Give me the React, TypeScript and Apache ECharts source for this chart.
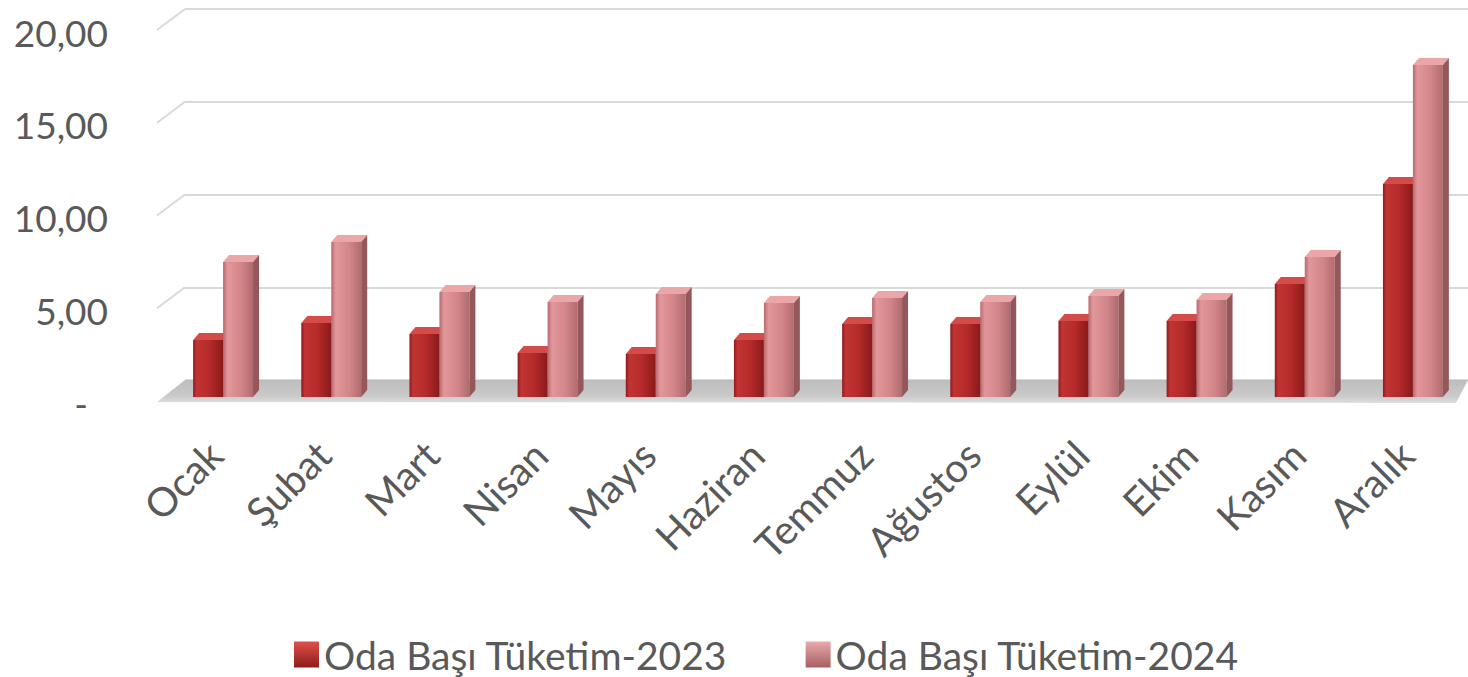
import React, { useEffect, useRef } from "react";
import * as echarts from "echarts";

const months = ["Ocak", "Şubat", "Mart", "Nisan", "Mayıs", "Haziran", "Temmuz", "Ağustos", "Eylül", "Ekim", "Kasım", "Aralık"];
const values2023 = [3.07, 3.99, 3.4, 2.37, 2.32, 3.07, 3.94, 3.94, 4.1, 4.1, 6.09, 11.48];
const values2024 = [7.28, 8.36, 5.66, 5.12, 5.55, 5.07, 5.34, 5.12, 5.44, 5.23, 7.55, 17.9];
const seriesNames = ["Oda Başı Tüketim-2023", "Oda Başı Tüketim-2024"];
const wallTicks = [5, 10, 15, 20];

const FONT = "Lato, 'Open Sans', sans-serif";
const TEXT = "#595959";
const GRIDC = "#d9d9d9";

const palettes = [
  {
    front: [
      [0, "#8f1b1b"],
      [0.12, "#c23434"],
      [0.55, "#b52a2a"],
      [1, "#8a1a1a"],
    ],
    top: "#d44c4a",
    side: "#7a1515",
    legend: ["#e0504a", "#8e1c1c"],
  },
  {
    front: [
      [0, "#b86a6d"],
      [0.15, "#e2979a"],
      [0.6, "#d3868a"],
      [1, "#b06b6e"],
    ],
    top: "#eba7a8",
    side: "#94585a",
    legend: ["#eaa9ab", "#a65e61"],
  },
];

const DX = 6;
const DY = -7;

function makeRender(s: number) {
  const p = palettes[s];
  return (params: any, api: any) => {
    const c = api.value(0);
    const v = api.value(1);
    const base = api.coord([c, 0]);
    const top = api.coord([c, v]);
    const band = api.size([1, 0])[0];
    const w = band * 0.277;
    const x0 = base[0] - w + s * w;
    const x1 = x0 + w;
    const yb = base[1];
    const yt = top[1];
    return {
      type: "group",
      children: [
        {
          type: "rect",
          shape: { x: x0, y: yt, width: w, height: yb - yt },
          style: {
            fill: new echarts.graphic.LinearGradient(
              0, 0, 1, 0,
              p.front.map(([o, col]) => ({ offset: o as number, color: col as string }))
            ),
          },
        },
        {
          type: "polygon",
          shape: { points: [[x0, yt], [x0 + DX, yt + DY], [x1 + DX, yt + DY], [x1, yt]] },
          style: { fill: p.top },
        },
        {
          type: "polygon",
          shape: { points: [[x1, yt], [x1 + DX, yt + DY], [x1 + DX, yb + DY], [x1, yb]] },
          style: { fill: p.side },
        },
      ],
    };
  };
}

export default function App() {
  const ref = useRef<HTMLDivElement>(null);
  useEffect(() => {
    if (!ref.current) return;
    const chart = echarts.init(ref.current, undefined, { renderer: "svg" });
    const option: any = {
      animation: false,
      legend: {
        data: seriesNames,
        left: 289,
        top: 630,
        itemWidth: 25,
        itemHeight: 26,
        itemGap: 78,
        icon: "rect",
        textStyle: { fontFamily: FONT, fontSize: 39, color: TEXT },
      },
      grid: [
        { left: 169, right: 1, top: 26, bottom: 280 },
        { left: 185, right: 0, top: 9, bottom: 297 },
        { left: 161, right: 7, top: 32, bottom: 274 },
      ],
      xAxis: [
        { type: "category", gridIndex: 0, data: months, show: false },
        { type: "value", gridIndex: 1, min: 0, max: 1, show: false },
        {
          type: "category",
          gridIndex: 2,
          data: months,
          axisLine: { show: false },
          axisTick: { show: false },
          axisLabel: {
            rotate: 45,
            margin: 45,
            interval: 0,
            fontFamily: FONT,
            fontSize: 40,
            color: TEXT,
          },
        },
      ],
      yAxis: [
        { type: "value", gridIndex: 0, min: 0, max: 20, interval: 5, show: false },
        {
          type: "value",
          gridIndex: 1,
          min: 0,
          max: 20,
          interval: 5,
          axisLine: { show: false },
          axisTick: { show: false },
          axisLabel: { show: false },
          splitLine: { show: true, lineStyle: { color: GRIDC, width: 2 } },
        },
        {
          type: "value",
          gridIndex: 2,
          min: 0,
          max: 20,
          interval: 5,
          axisLine: { show: false },
          axisTick: { show: false },
          splitLine: { show: false },
          axisLabel: {
            margin: 53,
            fontFamily: FONT,
            fontSize: 37,
            color: TEXT,
            formatter: (v: number) => (v === 0 ? "{d|-}" : v.toFixed(2).replace(".", ",")),
            rich: { d: { fontFamily: FONT, fontSize: 37, color: TEXT, padding: [0, 20, 0, 0] } },
          },
        },
      ],
      series: [
        {
          type: "custom",
          name: "wall-diagonals",
          xAxisIndex: 1,
          yAxisIndex: 1,
          silent: true,
          z: 1,
          data: wallTicks.map((t) => [0, t]),
          renderItem: (params: any, api: any) => {
            const p = api.coord([0, api.value(1)]);
            return {
              type: "line",
              shape: { x1: p[0], y1: p[1], x2: p[0] - 28, y2: p[1] + 21 },
              style: { stroke: GRIDC, lineWidth: 2 },
            };
          },
        },
        {
          type: "custom",
          name: "floor",
          xAxisIndex: 1,
          yAxisIndex: 1,
          silent: true,
          z: 1,
          data: [[0, 0]],
          renderItem: (params: any, api: any) => {
            const a = api.coord([0, 0]);
            const b = api.coord([1, 0]);
            return {
              type: "polygon",
              shape: { points: [[a[0], a[1]], [b[0], b[1]], [b[0] - 12, b[1] + 23], [a[0] - 28, a[1] + 22]] },
              style: {
                fill: new echarts.graphic.LinearGradient(0, 0, 0, 1, [
                  { offset: 0, color: "#bdbdbd" },
                  { offset: 0.7, color: "#cacaca" },
                  { offset: 1, color: "#dedede" },
                ]),
              },
            };
          },
        },
        ...[values2023, values2024].map((vals, s) => ({
          type: "custom",
          name: seriesNames[s],
          xAxisIndex: 0,
          yAxisIndex: 0,
          z: 3 + s,
          encode: { x: 0, y: 1 },
          itemStyle: {
            color: new echarts.graphic.LinearGradient(0, 0, 0, 1, [
              { offset: 0, color: palettes[s].legend[0] },
              { offset: 1, color: palettes[s].legend[1] },
            ]),
          },
          data: vals.map((v, i) => [i, v]),
          renderItem: makeRender(s),
        })),
      ],
    };
    chart.setOption(option);
    return () => chart.dispose();
  }, []);
  return (
    <div
      ref={ref}
      style={{ position: "fixed", left: 0, top: 0, width: 1468, height: 677, background: "#ffffff" }}
    />
  );
}
